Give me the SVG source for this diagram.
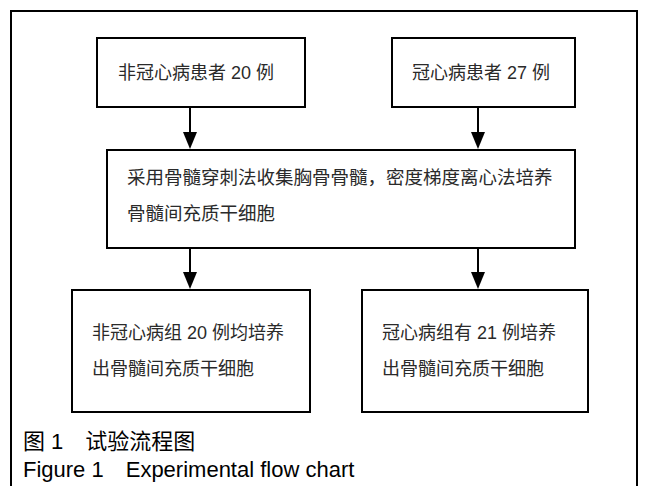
<svg xmlns="http://www.w3.org/2000/svg" width="648" height="486" viewBox="0 0 648 486">
<defs>
<style>
.box{fill:#fff;stroke:#000;stroke-width:2}
.t{font-family:"Liberation Sans","Noto Sans CJK SC",sans-serif;font-size:18px;fill:#2a2a2a}
.tw{font-size:18.5px}
.cap{font-family:"Liberation Sans","Noto Sans CJK SC",sans-serif;font-size:22px;fill:#000}
.conn line{stroke:#000;stroke-width:2}
.conn path{fill:#000}
</style>
</defs>
<rect width="648" height="486" fill="#fff"/>
<rect x="11" y="11" width="626" height="480" fill="none" stroke="#000" stroke-width="2"/>
<g id="n1"><rect class="box" x="97" y="38" width="208" height="69"/><text class="t" x="118" y="79">非冠心病患者 20 例</text></g>
<g id="n2"><rect class="box" x="392" y="38" width="183" height="69"/><text class="t" x="412" y="79">冠心病患者 27 例</text></g>
<g id="n3"><rect class="box" x="107" y="150" width="468" height="98"/><text class="t tw" x="127" y="184">采用骨髓穿刺法收集胸骨骨髓，密度梯度离心法培养</text><text class="t tw" x="127" y="220">骨髓间充质干细胞</text></g>
<g id="n4"><rect class="box" x="72" y="290" width="238" height="122"/><text class="t" x="92" y="339">非冠心病组 20 例均培养</text><text class="t" x="92" y="375">出骨髓间充质干细胞</text></g>
<g id="n5"><rect class="box" x="362" y="290" width="226" height="122"/><text class="t" x="382" y="339">冠心病组有 21 例培养</text><text class="t" x="382" y="375">出骨髓间充质干细胞</text></g>
<g id="conn" class="conn">
<line x1="190" y1="107" x2="190" y2="134"/><path d="M183,132 L197,132 L190,149 Z"/>
<line x1="478" y1="107" x2="478" y2="134"/><path d="M471,132 L485,132 L478,149 Z"/>
<line x1="190" y1="248" x2="190" y2="274"/><path d="M183,272 L197,272 L190,289 Z"/>
<line x1="478" y1="248" x2="478" y2="274"/><path d="M471,272 L485,272 L478,289 Z"/>
</g>
<text class="cap" x="23" y="449">图 1　试验流程图</text>
<text class="cap" x="23" y="477">Figure 1　Experimental flow chart</text>
</svg>
